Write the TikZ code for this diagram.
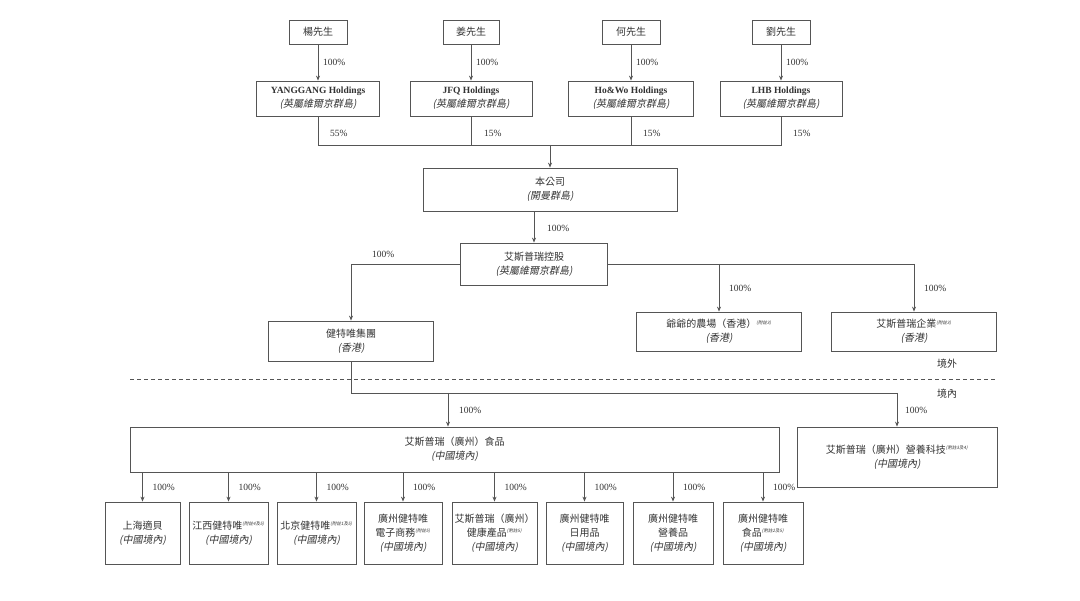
\documentclass[tikz,border=0pt]{standalone}
\usepackage{fontspec}
\setmainfont{Liberation Serif}
\newfontfamily\cjk{Noto Sans CJK TC}
\newfontfamily\cjkit{Noto Sans CJK TC}[FakeSlant=0.2]
\usetikzlibrary{arrows.meta}
\definecolor{ln}{HTML}{555555}
\definecolor{tx}{HTML}{333333}
\newcommand\fz[1]{\textsuperscript{\fontsize{4.5}{5}\selectfont\cjkit (附註#1)}}
\newcommand\loc[1]{{\cjkit (#1)}}
\begin{document}
\begin{tikzpicture}[x=1pt,y=-1pt,
 box/.style={draw=ln, line width=0.8pt, align=center, inner sep=1pt, text=tx, font=\cjk\fontsize{10}{14}\selectfont},
 pct/.style={anchor=west, text=tx, font=\fontsize{9.5}{11}\selectfont, inner sep=0pt},
 lbl/.style={text=tx, font=\cjk\fontsize{10}{11}\selectfont, inner sep=0pt},
 conn/.style={draw=ln, line width=0.8pt},
 arr/.style={conn, -{Stealth[length=5pt,width=4pt]}},
 ]
\fill[white] (0,0) rectangle (1080,601);
\useasboundingbox (0,0) rectangle (1080,601);

% top persons
\node[box, minimum width=58pt, minimum height=24pt] (p1) at (318,32) {楊先生};
\node[box, minimum width=56pt, minimum height=24pt] (p2) at (471,32) {姜先生};
\node[box, minimum width=58pt, minimum height=24pt] (p3) at (631,32) {何先生};
\node[box, minimum width=58pt, minimum height=24pt] (p4) at (781,32) {劉先生};

% holdings
\node[box, minimum width=123pt, minimum height=35pt] (h1) at (318,98.5) {{\rmfamily\bfseries\fontsize{9.5}{13}\selectfont YANGGANG Holdings}\\\loc{英屬維爾京群島}};
\node[box, minimum width=122pt, minimum height=35pt] (h2) at (471,98.5) {{\rmfamily\bfseries\fontsize{9.5}{13}\selectfont JFQ Holdings}\\\loc{英屬維爾京群島}};
\node[box, minimum width=125pt, minimum height=35pt] (h3) at (631,98.5) {{\rmfamily\bfseries\fontsize{9.5}{13}\selectfont Ho\&Wo Holdings}\\\loc{英屬維爾京群島}};
\node[box, minimum width=122pt, minimum height=35pt] (h4) at (781,98.5) {{\rmfamily\bfseries\fontsize{9.5}{13}\selectfont LHB Holdings}\\\loc{英屬維爾京群島}};

\foreach \i in {1,2,3,4} { \draw[arr] (p\i) -- (h\i); }
\node[pct] at (323,62) {100\%};
\node[pct] at (476,62) {100\%};
\node[pct] at (636,62) {100\%};
\node[pct] at (786,62) {100\%};

% company
\node[box, minimum width=254pt, minimum height=43pt] (co) at (550,189.5) {本公司\\\loc{開曼群島}};
\coordinate (bus) at (550,145);
\draw[conn] (h1.south) |- (bus);
\draw[conn] (h4.south) |- (bus);
\draw[conn] (h2.south) -- (h2.south |- bus);
\draw[conn] (h3.south) -- (h3.south |- bus);
\draw[arr] (bus) -- (co.north);
\node[pct] at (330,133) {55\%};
\node[pct] at (484,133) {15\%};
\node[pct] at (643,133) {15\%};
\node[pct] at (793,133) {15\%};

% 艾斯普瑞控股
\node[box, minimum width=147pt, minimum height=42pt] (hd) at (534,264) {艾斯普瑞控股\\\loc{英屬維爾京群島}};
\draw[arr] (co.south -| hd.north) -- (hd.north);
\node[pct] at (547,228) {100\%};

\node[box, minimum width=165pt, minimum height=40pt] (jt) at (351,341) {健特唯集團\\\loc{香港}};
\node[box, minimum width=165pt, minimum height=39pt] (fm) at (719,331.5) {爺爺的農場（香港）\fz{3}\\\loc{香港}};
\node[box, minimum width=165pt, minimum height=39pt] (en) at (914,331.5) {艾斯普瑞企業\fz{3}\\\loc{香港}};

\draw[arr] (hd.west) -| (jt.north);
\draw[conn] (hd.east) -- (hd.east -| en.north);
\draw[arr] (hd.east -| fm.north) -- (fm.north);
\draw[arr] (hd.east -| en.north) -- (en.north);
\node[pct] at (372,254) {100\%};
\node[pct] at (729,288) {100\%};
\node[pct] at (924,288) {100\%};

% border line
\node[lbl] (out) at (947,364) {境外};
\node[lbl] (in) at (947,394) {境內};
\coordinate (dl) at (130,379);
\coordinate (dr) at (996,379);
\draw[conn, line width=0.7pt, dash pattern=on 4pt off 3pt] (dl) -- (dr);

% food company
\node[box, minimum width=649pt, minimum height=45pt] (fd) at (454.5,449.5) {艾斯普瑞（廣州）食品\\\loc{中國境內}};
\node[box, minimum width=200pt, minimum height=60pt] (nt) at (897,457) {艾斯普瑞（廣州）營養科技\fz{3及4}\\\loc{中國境內}};

\coordinate (jb) at (352,393);
\coordinate (fj) at (448,393);
\draw[conn] (jt.south) |- (jb -| nt.north);
\draw[arr] (fj) -- (fj |- fd.north);
\draw[arr] (jb -| nt.north) -- (nt.north);
\node[pct] at (459,410) {100\%};
\node[pct] at (905,410) {100\%};

% bottom row
\node[box, minimum width=75pt, minimum height=62pt] (b1) at (142.5,533) {上海適貝\\\loc{中國境內}};
\node[box, minimum width=79pt, minimum height=62pt] (b2) at (228.5,533) {江西健特唯\fz{4及5}\\\loc{中國境內}};
\node[box, minimum width=79pt, minimum height=62pt] (b3) at (316.5,533) {北京健特唯\fz{1及5}\\\loc{中國境內}};
\node[box, minimum width=78pt, minimum height=62pt] (b4) at (403,533) {廣州健特唯\\電子商務\fz{5}\\\loc{中國境內}};
\node[box, minimum width=85pt, minimum height=62pt] (b5) at (494.5,533) {艾斯普瑞（廣州）\\健康產品\fz{5}\\\loc{中國境內}};
\node[box, minimum width=77pt, minimum height=62pt] (b6) at (584.5,533) {廣州健特唯\\日用品\\\loc{中國境內}};
\node[box, minimum width=80pt, minimum height=62pt] (b7) at (673,533) {廣州健特唯\\營養品\\\loc{中國境內}};
\node[box, minimum width=80pt, minimum height=62pt] (b8) at (763,533) {廣州健特唯\\食品\fz{2及5}\\\loc{中國境內}};

\foreach \i/\x in {1/142.5,2/228.5,3/316.5,4/403,5/494.5,6/584.5,7/673,8/763} {
  \draw[arr] (fd.south -| b\i.north) -- (b\i.north);
  \node[pct] at (\x+10,487) {100\%};
}
\end{tikzpicture}
\end{document}
